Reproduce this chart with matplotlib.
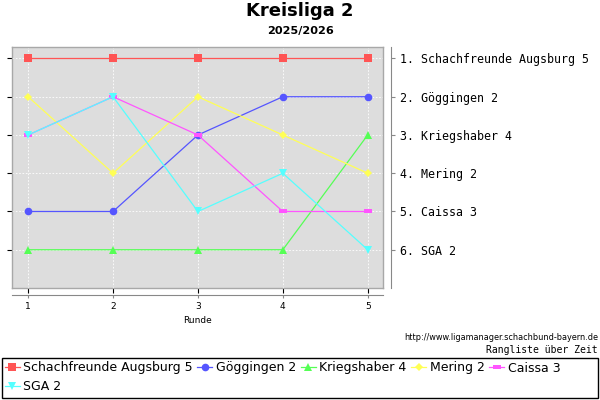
import matplotlib
matplotlib.use("Agg")
import matplotlib.pyplot as plt
from matplotlib.patches import Rectangle

rounds = [1, 2, 3, 4, 5]
teams = ["Schachfreunde Augsburg 5", "Göggingen 2", "Kriegshaber 4", "Mering 2", "Caissa 3", "SGA 2"]
ranks_schach = [1, 1, 1, 1, 1]
ranks_goegg = [5, 5, 3, 2, 2]
ranks_krieg = [6, 6, 6, 6, 3]
ranks_mering = [2, 4, 2, 3, 4]
ranks_caissa = [3, 2, 3, 5, 5]
ranks_sga = [3, 2, 5, 4, 6]
final_labels = ["1. Schachfreunde Augsburg 5", "2. Göggingen 2", "3. Kriegshaber 4",
                "4. Mering 2", "5. Caissa 3", "6. SGA 2"]

series = [ranks_schach, ranks_goegg, ranks_krieg, ranks_mering, ranks_caissa, ranks_sga]
colors = ["#FF5555", "#5555FF", "#55FF55", "#FFFF55", "#FF55FF", "#55FFFF"]
rect = [(-1, -0.55), (1, -0.55), (1, 0.55), (-1, 0.55), (-1, -0.55)]
markers = ["s", "o", "^", "D", rect, "v"]
msizes = [5.5, 5.5, 5.5, 4.5, 6, 5.5]

fig = plt.figure(figsize=(6, 4), dpi=100)
W, H = 600, 400
def fx(px): return px / W
def fy(py): return 1 - py / H

ax = fig.add_axes([fx(12), fy(288), fx(383) - fx(12), fy(47) - fy(288)])
ax.set_facecolor("#DDDDDD")
for s in ax.spines.values():
    s.set_color("#A8A8A8")
    s.set_linewidth(1)
ax.set_xlim(0.81, 5.18)
ax.set_ylim(7.0, 0.7)
ax.set_xticks(rounds)
ax.set_yticks(range(1, 7))
ax.tick_params(left=False, bottom=False, labelleft=False, labelbottom=False)
ax.grid(True, color="white", linestyle=(0, (2, 2)), linewidth=0.6)

handles = []
for vals, c, m, ms, name in zip(series, colors, markers, msizes, teams):
    h, = ax.plot(rounds, vals, color=c, marker=m, markersize=ms, linewidth=0.9,
                 markeredgewidth=0, label=name)
    handles.append(h)

# right axis with final ranking labels
ax2 = ax.twinx()
ax2.set_ylim(7.0, 0.7)
for k, s in ax2.spines.items():
    s.set_visible(k == "right")
ax2.spines["right"].set_position(("outward", 6))
ax2.spines["right"].set_color("#888888")
ax2.set_yticks(range(1, 7))
ax2.set_yticklabels(final_labels, family="DejaVu Sans Mono", fontsize=8.4)
ax2.tick_params(axis="y", length=3, color="#888888", pad=3.5)

# bottom axis
ax3 = ax.twiny()
ax3.set_xlim(0.81, 5.18)
for k, s in ax3.spines.items():
    s.set_visible(k == "bottom")
ax3.spines["bottom"].set_position(("outward", 5))
ax3.spines["bottom"].set_color("#888888")
ax3.xaxis.set_ticks_position("bottom")
ax3.xaxis.set_label_position("bottom")
ax3.set_xticks(rounds)
ax3.set_xticklabels([str(r) for r in rounds], fontsize=6.5)
ax3.tick_params(axis="x", length=2, color="#888888", pad=3)
ax3.set_xlabel("Runde", fontsize=6.5, labelpad=4)

fig.text(0.5, fy(11), "Kreisliga 2", ha="center", va="center", fontsize=13, fontweight="bold")
fig.text(0.5, fy(31), "2025/2026", ha="center", va="center", fontsize=8.1, fontweight="bold")
fig.text(fx(598), fy(338), "http://www.ligamanager.schachbund-bayern.de", ha="right", va="center",
         fontsize=5.9)
fig.text(fx(598), fy(350), "Rangliste über Zeit", ha="right", va="center",
         family="DejaVu Sans Mono", fontsize=7)

# legend box
fig.patches.append(Rectangle((fx(2), fy(398)), fx(596), fy(358) - fy(398),
                             transform=fig.transFigure, fill=False, edgecolor="black",
                             linewidth=1))
order = [0, 5, 1, 2, 3, 4]
leg = fig.legend([handles[i] for i in order], [teams[i] for i in order],
                 loc="upper left", bbox_to_anchor=(fx(2), fy(359)), ncol=5,
                 frameon=False, fontsize=9.0, handlelength=1.2, handletextpad=0.3,
                 columnspacing=0.35, labelspacing=0.45, borderpad=0.2, borderaxespad=0)

fig.savefig("out.png", dpi=100)
